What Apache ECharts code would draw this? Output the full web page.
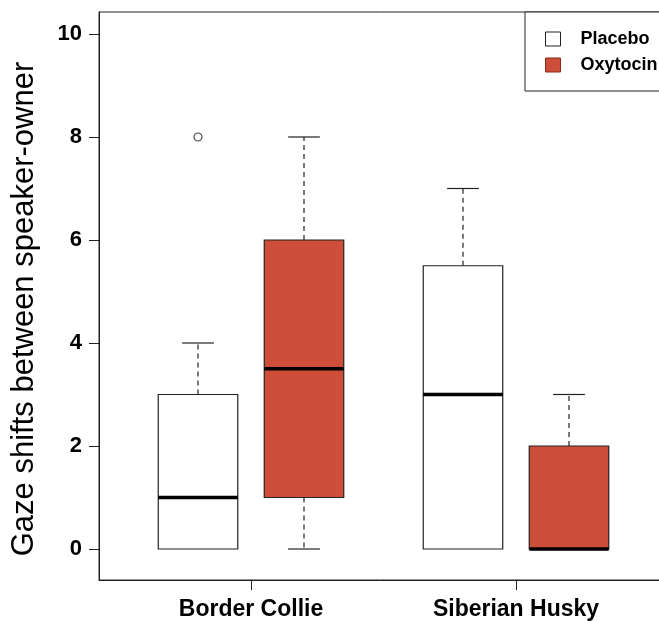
<!DOCTYPE html>
<html>
<head>
<meta charset="utf-8">
<script src="https://cdn.jsdelivr.net/npm/echarts@6/dist/echarts.min.js"></script>
<style>html,body{margin:0;padding:0;background:#fff;}#c{width:659px;height:621px;}</style>
</head>
<body>
<div id="c"></div>
<script>
// ---- data ----
const categories = ['Border Collie', 'Siberian Husky'];
const groups = ['Placebo', 'Oxytocin'];
// [min, Q1, median, Q3, max] per category
const placeboStats = [[0, 0, 1, 3, 4], [0, 0, 3, 5.5, 7]];
const oxytocinStats = [[0, 1, 3.5, 6, 8], [0, 0, 0, 2, 3]];
// outliers: [category index, value]
const placeboOutliers = [[0, 8]];
const oxytocinOutliers = [];
const yTicks = [0, 2, 4, 6, 8, 10];

// ---- layout constants ----
const groupOffset = [-0.2, 0.2];
const boxWidth = 0.3;
const stapleWidth = 0.12;
const fills = ['#ffffff', '#CD4F39'];
const lineColor = '#222';

function boxData(stats, g) {
  return stats.map((s, i) => [i + 1 + groupOffset[g]].concat(s));
}
function outlierData(list, g) {
  return list.map(o => [o[0] + 1 + groupOffset[g], o[1]]);
}

function renderBox(fill) {
  return function (params, api) {
    const x = api.value(0);
    const mn = api.value(1), q1 = api.value(2), md = api.value(3), q3 = api.value(4), mx = api.value(5);
    const pL = api.coord([x - boxWidth / 2, q3]);
    const pR = api.coord([x + boxWidth / 2, q1]);
    const sL = api.coord([x - stapleWidth / 2, mx])[0];
    const sR = api.coord([x + stapleWidth / 2, mx])[0];
    const cx = api.coord([x, 0])[0];
    const yMin = api.coord([x, mn])[1], yMax = api.coord([x, mx])[1];
    const yQ1 = api.coord([x, q1])[1], yQ3 = api.coord([x, q3])[1], yMd = api.coord([x, md])[1];
    const children = [];
    if (mx > q3) {
      children.push({type: 'line', shape: {x1: cx, y1: yQ3, x2: cx, y2: yMax},
        style: {stroke: lineColor, lineWidth: 1.2, lineDash: [5, 4]}});
      children.push({type: 'line', shape: {x1: sL, y1: yMax, x2: sR, y2: yMax},
        style: {stroke: lineColor, lineWidth: 1.2}});
    }
    if (mn < q1) {
      children.push({type: 'line', shape: {x1: cx, y1: yQ1, x2: cx, y2: yMin},
        style: {stroke: lineColor, lineWidth: 1.2, lineDash: [5, 4]}});
      children.push({type: 'line', shape: {x1: sL, y1: yMin, x2: sR, y2: yMin},
        style: {stroke: lineColor, lineWidth: 1.2}});
    }
    children.push({type: 'rect', shape: {x: pL[0], y: pL[1], width: pR[0] - pL[0], height: pR[1] - pL[1]},
      style: {fill: fill, stroke: lineColor, lineWidth: 1.2}});
    children.push({type: 'line', shape: {x1: pL[0], y1: yMd, x2: pR[0], y2: yMd},
      style: {stroke: '#000', lineWidth: 3.5}});
    return {type: 'group', children: children};
  };
}

const chart = echarts.init(document.getElementById('c'));
const option = {
  animation: false,
  backgroundColor: '#fff',
  grid: {left: 99, right: -2, top: 12, bottom: 41, show: true, borderColor: lineColor, borderWidth: 1,
    backgroundColor: 'transparent', containLabel: false, outerBoundsMode: 'none'},
  legend: {
    orient: 'vertical', left: 525, top: 12,
    padding: [18, 20, 17, 20],
    itemWidth: 15, itemHeight: 14, itemGap: 8,
    borderColor: lineColor, borderWidth: 1, backgroundColor: '#fff',
    selectedMode: false,
    textStyle: {fontFamily: 'Liberation Sans', fontWeight: 'bold', fontSize: 18, color: '#000', padding: [0, 0, 0, 15], lineHeight: 14},
    data: [
      {name: groups[0], icon: 'rect', itemStyle: {color: fills[0], borderColor: lineColor, borderWidth: 1}},
      {name: groups[1], icon: 'rect', itemStyle: {color: fills[1], borderColor: '#8a2a1a', borderWidth: 1}}
    ]
  },
  xAxis: {
    type: 'value', min: 1 - 152 / 265, max: 1 - 152 / 265 + 562 / 265,
    splitLine: {show: false},
    axisLine: {show: true, onZero: false, lineStyle: {color: lineColor}},
    axisTick: {show: true, customValues: [1, 2], length: 10, lineStyle: {color: lineColor}},
    axisLabel: {customValues: [1, 2], formatter: v => categories[Math.round(v) - 1] || '', margin: 18,
      fontFamily: 'Liberation Sans', fontWeight: 'bold', fontSize: 23, color: '#000'}
  },
  yAxis: {
    type: 'value', min: -0.602, max: 10.427,
    splitLine: {show: false},
    axisLine: {show: true, onZero: false, lineStyle: {color: lineColor}},
    axisTick: {show: true, customValues: yTicks, length: 10, lineStyle: {color: lineColor}},
    axisLabel: {customValues: yTicks, margin: 17, fontFamily: 'Liberation Sans', fontWeight: 'bold', fontSize: 22, color: '#000'},
    name: 'Gaze shifts between speaker-owner', nameLocation: 'middle', nameRotate: 90, nameGap: 59,
    nameTextStyle: {fontFamily: 'Liberation Sans', fontSize: 31, color: '#000', padding: [0, 26, 0, 0]}
  },
  series: [
    {name: groups[0], type: 'custom', renderItem: renderBox(fills[0]), data: boxData(placeboStats, 0),
      itemStyle: {color: fills[0]}, encode: {x: 0, y: [1, 5]}},
    {name: groups[1], type: 'custom', renderItem: renderBox(fills[1]), data: boxData(oxytocinStats, 1),
      itemStyle: {color: fills[1]}, encode: {x: 0, y: [1, 5]}},
    {name: groups[0] + ' outliers', type: 'scatter', data: outlierData(placeboOutliers, 0).concat(outlierData(oxytocinOutliers, 1)),
      symbol: 'circle', symbolSize: 8, itemStyle: {color: '#fff', borderColor: lineColor, borderWidth: 1.2}}
  ]
};
chart.setOption(option);
</script>
</body>
</html>
